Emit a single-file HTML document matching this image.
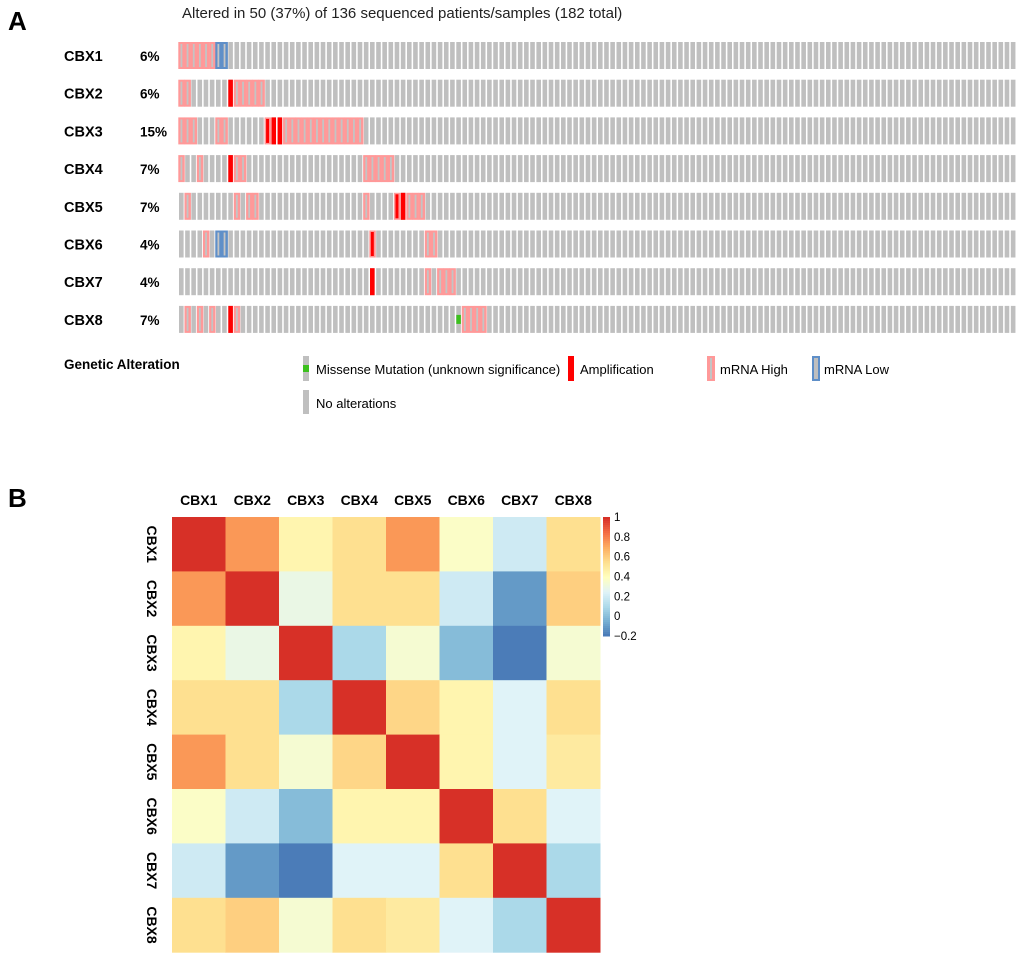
<!DOCTYPE html>
<html><head><meta charset="utf-8">
<style>
body{margin:0;background:#fff;font-family:"Liberation Sans",Arial,sans-serif;}
svg{display:block}
</style></head>
<body>
<svg id="s" width="1020" height="960" xmlns="http://www.w3.org/2000/svg" font-family="Liberation Sans, Arial, sans-serif">
<text x="8" y="30" font-size="26" font-weight="bold">A</text>
<text x="8" y="507" font-size="26" font-weight="bold">B</text>
<text x="182" y="18" font-size="15" fill="#222">Altered in 50 (37%) of 136 sequenced patients/samples (182 total)</text>
<g id="onco"></g>
<g id="legend">
<text x="64" y="369" font-size="13.5" font-weight="bold">Genetic Alteration</text>
<g><rect x="303" y="356" width="6" height="25" fill="#bfbfbf"/><rect x="303" y="365" width="6" height="7" fill="#3cc01e"/><text x="316" y="374" font-size="13">Missense Mutation (unknown significance)</text></g>
<g><rect x="568" y="356" width="6" height="25" fill="#ff0000"/><text x="580" y="374" font-size="13">Amplification</text></g>
<g><rect x="707" y="356" width="8" height="25" fill="#f99"/><rect x="710" y="358" width="2" height="21" fill="#c4c4c4"/><text x="720" y="374" font-size="13">mRNA High</text></g>
<g><rect x="812" y="356" width="8" height="25" fill="#5f8fc8"/><rect x="814" y="358" width="4" height="21" fill="#bfbfbf"/><text x="824" y="374" font-size="13">mRNA Low</text></g>
<g><rect x="303" y="390" width="6" height="24" fill="#bfbfbf"/><text x="316" y="408" font-size="13">No alterations</text></g>
</g>
<g id="heat"></g>
<g id="cbar"></g>
</svg>
<script>
const genes=["CBX1","CBX2","CBX3","CBX4","CBX5","CBX6","CBX7","CBX8"];
const pcts=["6%","6%","15%","7%","7%","4%","4%","7%"];
const nSamples=136;
const highCols=[[0,1,2,3,4,5],[0,1,9,10,11,12,13],[0,1,2,6,7,14,17,18,19,20,21,22,23,24,25,26,27,28,29],[0,3,9,10,30,31,32,33,34],[1,9,11,12,30,35,37,38,39],[4,31,40,41],[40,42,43,44],[1,3,5,9,46,47,48,49]];
const ampCols=[[],[8],[14,15,16],[8],[35,36],[31],[31],[8]];
const lowCols=[[6,7],[],[],[],[],[6,7],[],[]];
const misCols=[[],[],[],[],[],[],[],[45]];
const corr=[
[1,0.75,0.45,0.55,0.75,0.38,0.2,0.55],
[0.75,1,0.3,0.55,0.55,0.2,-0.1,0.6],
[0.45,0.3,1,0.1,0.35,0.0,-0.18,0.35],
[0.55,0.55,0.1,1,0.58,0.45,0.25,0.55],
[0.75,0.55,0.35,0.58,1,0.45,0.25,0.5],
[0.38,0.2,0.0,0.45,0.45,1,0.55,0.25],
[0.2,-0.1,-0.18,0.25,0.25,0.55,1,0.1],
[0.55,0.6,0.35,0.55,0.5,0.25,0.1,1]];
const cbTicks=[1,0.8,0.6,0.4,0.2,0,-0.2];

const NS="http://www.w3.org/2000/svg";
function mk(p,t,a){const e=document.createElementNS(NS,t);for(const k in a)e.setAttribute(k,a[k]);p.appendChild(e);return e;}
const onco=document.getElementById('onco');
const x0=179,dx=838/nSamples,rowY0=42,rowDy=37.7,bh=27;
genes.forEach((g,r)=>{
  const y=rowY0+r*rowDy;
  const t=mk(onco,'text',{x:64,y:y+19,'font-size':14.5,'font-weight':'bold'});t.textContent=g;
  
  
  const p=mk(onco,'text',{x:140,y:y+19,'font-size':13.5,'font-weight':'bold'});p.textContent=pcts[r];
  
  
  const rg=mk(onco,'g',{});
  
  
  for(let i=0;i<nSamples;i++){
    const cx=x0+i*dx;
    const hi=highCols[r].includes(i),lo=lowCols[r].includes(i),am=ampCols[r].includes(i),mi=misCols[r].includes(i);
    if(hi) mk(rg,'rect',{x:cx-0.7,y:y,width:dx+0.3,height:bh,fill:'#f99'});
    if(lo) mk(rg,'rect',{x:cx-0.7,y:y,width:dx+0.3,height:bh,fill:'#5f8fc8'});
    const inner=(hi||lo)?{x:cx+1.5,w:1.8,y:y+2,h:bh-4}:{x:cx,w:4.6,y:y,h:bh};
    mk(rg,'rect',{x:inner.x,y:inner.y,width:inner.w,height:inner.h,fill:(hi||lo)?'#c4c4c4':'#bfbfbf'});
    if(am) mk(rg,'rect',{x:hi?cx+0.8:cx,y:hi?y+1.5:y,width:hi?3:4.6,height:hi?bh-3:bh,fill:'#ff0000'});
    if(mi) mk(rg,'rect',{x:cx,y:y+bh/3,width:4.6,height:bh/3,fill:'#3cc01e'});
  }
});
const pal=["#d73027","#f46d43","#fdae61","#fee090","#ffffbf","#e0f3f8","#abd9e9","#74add1","#4575b4"];
const vmin=-0.2,vmax=1;
function hex(h){return [1,3,5].map(i=>parseInt(h.substr(i,2),16));}
function col(v){let t=(vmax-v)/(vmax-vmin)*(pal.length-1);t=Math.max(0,Math.min(pal.length-1,t));const i=Math.min(pal.length-2,Math.floor(t)),f=t-i;const a=hex(pal[i]),b=hex(pal[i+1]);return 'rgb('+a.map((c,k)=>Math.round(c+(b[k]-c)*f)).join(',')+')';}
const heat=document.getElementById('heat');
const hx0=172,hy0=517,cw=53.5,ch=54.4;
const xs=i=>hx0+i*cw, ys=j=>hy0+j*ch;
genes.forEach((g,i)=>{
  const t=mk(heat,'text',{x:xs(i)+cw/2,y:505,'font-size':14,'font-weight':'bold','text-anchor':'middle'});t.textContent=g;
  
  
  const yl=ys(i)+ch/2;
  const r=mk(heat,'text',{x:0,y:0,'font-size':14,'font-weight':'bold','text-anchor':'middle',transform:`translate(147,${yl}) rotate(90)`});r.textContent=g;
  
  
});
corr.forEach((row,j)=>row.forEach((v,i)=>{
  const c=mk(heat,'rect',{x:xs(i),y:ys(j),width:cw+0.5,height:ch+0.5,fill:col(v)});
  
  
}));
const cb=document.getElementById('cbar');
const cby=v=>517+(vmax-v)/(vmax-vmin)*119;
for(let k=0;k<60;k++){const v=vmax-(k/60)*(vmax-vmin);mk(cb,'rect',{x:603,y:cby(v),width:7,height:119/60+0.5,fill:col(v)});}
cbTicks.forEach(v=>{const t=mk(cb,'text',{x:614,y:cby(v)+4,'font-size':11.5});t.textContent=v<0?'\u2212'+Math.abs(v):String(v);
  
  });
</script>
</body></html>
